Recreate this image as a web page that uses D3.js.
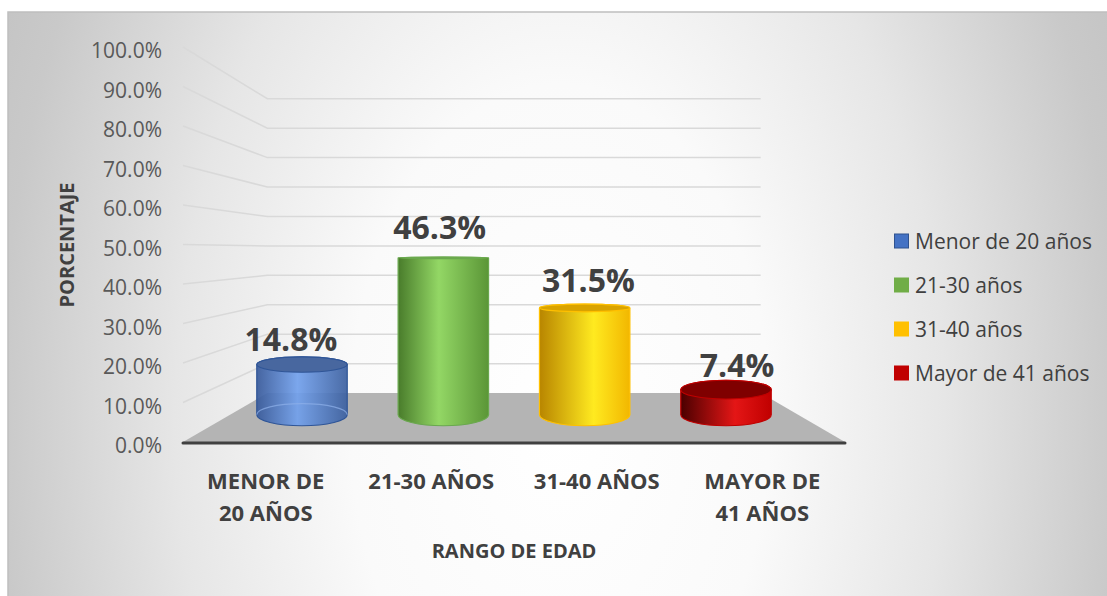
<!DOCTYPE html>
<html lang="es">
<head>
<meta charset="UTF-8">
<title>Rango de edad</title>
<script src="https://d3js.org/d3.v7.min.js"></script>
<style>
    body { margin: 0; background: #ffffff; font-family: "Open Sans", sans-serif; }
    svg { display: block; }
</style>
</head>
<body>
<div id="chart"></div>
<script>
// Datos del gráfico
const categories = ["Menor de 20 años", "21-30 años", "31-40 años", "Mayor de 41 años"];
const axisLabels = [["MENOR DE", "20 AÑOS"], ["21-30 AÑOS"], ["31-40 AÑOS"], ["MAYOR DE", "41 AÑOS"]];
const values = [0.148, 0.463, 0.315, 0.074];
const yTicks = [0, 0.1, 0.2, 0.3, 0.4, 0.5, 0.6, 0.7, 0.8, 0.9, 1.0];

// Colores: [izquierda, brillo, derecha, tapa, borde]
const palette = [
    ["#37599a", "#71a0ec", "#3b5f9f", "#48679f", "#2f5597"],
    ["#497c2b", "#93d765", "#5b9637", "#6fae48", "#6aa84f"],
    ["#b88500", "#ffea20", "#f2b700", "#d9a300", "#ffc000"],
    ["#4a0000", "#e41616", "#c00000", "#7f0000", "#c00000"]
];
const legendColors = ["#4472c4", "#70ad47", "#ffc000", "#c00000"];
const legendStroke = ["#2f528f", "#70ad47", "#ffc000", "#c00000"];

const width = 1107, height = 596;

const svg = d3.select("#chart").append("svg")
    .attr("width", width)
    .attr("height", height);

const defs = svg.append("defs");

// Fondo con degradado radial
const bg = defs.append("radialGradient")
    .attr("id", "bg")
    .attr("gradientUnits", "userSpaceOnUse")
    .attr("cx", 560).attr("cy", 420).attr("r", 700)
    .attr("gradientTransform", "translate(0,420) scale(1,1.6) translate(0,-420)");
[[0, "#ffffff"], [0.3, "#fafafa"], [0.55, "#e6e6e6"], [0.8, "#c9c9c9"], [1, "#bdbdbd"]]
    .forEach(s => bg.append("stop").attr("offset", s[0]).attr("stop-color", s[1]));

svg.append("rect")
    .attr("x", 8).attr("y", 12)
    .attr("width", width).attr("height", height)
    .attr("fill", "url(#bg)")
    .attr("stroke", "#bfbfbf")
    .attr("stroke-width", 1.5);

// Escalas (plano frontal)
const x = d3.scaleBand()
    .domain(categories)
    .range([183, 845])
    .paddingInner(0.36)
    .paddingOuter(0.18);

const y = d3.scaleLinear()
    .domain([0, 1])
    .range([442, 47]);

// Perspectiva simple hacia un punto de fuga
const vp = [514, 250];
const depthK = 0.342;
const f = t => 1 / (1 + depthK * t);
const proj = (X, Y, t) => [vp[0] + f(t) * (X - vp[0]), vp[1] + f(t) * (Y - vp[1])];

const x0 = x.range()[0], x1 = x.range()[1];

// Líneas de cuadrícula (pared lateral y pared del fondo)
const grid = svg.append("g");
yTicks.filter(d => d > 0).forEach(v => {
    const a = proj(x0, y(v), 0), b = proj(x0, y(v), 1), c = proj(x1, y(v), 1);
    grid.append("path")
        .attr("d", `M${a[0]},${a[1]}L${b[0]},${b[1]}L${c[0]},${c[1]}`)
        .attr("fill", "none")
        .attr("stroke", "#d9d9d9")
        .attr("stroke-width", 1.5);
});

// Piso
const floorPts = [proj(x0, y(0), 0), proj(x1, y(0), 0), proj(x1, y(0), 1), proj(x0, y(0), 1)];
svg.append("polygon")
    .attr("points", floorPts.map(p => p.join(",")).join(" "))
    .attr("fill", "#b4b4b4");

svg.append("line")
    .attr("x1", x0).attr("x2", x1)
    .attr("y1", y(0) + 1).attr("y2", y(0) + 1)
    .attr("stroke", "#404040")
    .attr("stroke-width", 3)
    .attr("stroke-linecap", "round");

// Cilindros
const rt = 0.23;
const tc = 0.5;

function ellipseAt(X, Y) {
    const front = proj(X, Y, tc - rt), back = proj(X, Y, tc + rt), mid = proj(X, Y, tc);
    return {
        cx: mid[0],
        cy: (front[1] + back[1]) / 2,
        rx: f(tc) * x.bandwidth() / 2,
        ry: Math.max(0.8, Math.abs(front[1] - back[1]) / 2)
    };
}

const bars = svg.append("g");
categories.forEach((cat, i) => {
    const col = palette[i];
    const g = defs.append("linearGradient")
        .attr("id", "cyl" + i)
        .attr("x1", 0).attr("x2", 1).attr("y1", 0).attr("y2", 0);
    const brightAt = i < 2 ? 0.45 : 0.6;
    [[0, col[0]], [brightAt, col[1]], [1, col[2]]]
        .forEach(s => g.append("stop").attr("offset", s[0]).attr("stop-color", s[1]));

    const X = x(cat) + x.bandwidth() / 2;
    const bot = ellipseAt(X, y(0));
    const top = ellipseAt(X, y(values[i]));

    const body = `M${top.cx - top.rx},${top.cy}` +
        `L${bot.cx - bot.rx},${bot.cy}` +
        `A${bot.rx},${bot.ry} 0 0 0 ${bot.cx + bot.rx},${bot.cy}` +
        `L${top.cx + top.rx},${top.cy}` +
        `A${top.rx},${top.ry} 0 0 0 ${top.cx - top.rx},${top.cy}Z`;

    bars.append("path")
        .attr("d", body)
        .attr("fill", `url(#cyl${i})`)
        .attr("fill-opacity", i === 0 ? 0.92 : 1)
        .attr("stroke", col[4])
        .attr("stroke-width", 1.2);

    if (i === 0) {
        // borde trasero de la base visible a través del cilindro azul
        bars.append("path")
            .attr("d", `M${bot.cx - bot.rx},${bot.cy}A${bot.rx},${bot.ry} 0 0 1 ${bot.cx + bot.rx},${bot.cy}`)
            .attr("fill", "none")
            .attr("stroke", "#8fb0ea")
            .attr("stroke-opacity", 0.7)
            .attr("stroke-width", 1.2);
    }

    bars.append("ellipse")
        .attr("cx", top.cx).attr("cy", top.cy)
        .attr("rx", top.rx).attr("ry", top.ry)
        .attr("fill", col[3])
        .attr("stroke", col[4])
        .attr("stroke-width", 1.2);

    const lp = proj(X, y(values[i]), 0.33);
    svg.append("text")
        .attr("x", lp[0])
        .attr("y", lp[1] - 19)
        .attr("text-anchor", "middle")
        .attr("font-size", 32)
        .attr("font-weight", 700)
        .attr("fill", "#404040")
        .text(d3.format(".1%")(values[i]));
});

// Eje Y
const yAxis = d3.axisLeft(y)
    .tickValues(yTicks)
    .tickSize(0)
    .tickPadding(21)
    .tickFormat(d3.format(".1%"));

const ya = svg.append("g")
    .attr("transform", `translate(${x0},0)`)
    .call(yAxis);
ya.select(".domain").remove();
ya.selectAll("text")
    .attr("font-family", "Open Sans")
    .attr("font-size", 21)
    .attr("fill", "#595959")
    .attr("dy", "0.5em");

svg.append("text")
    .attr("transform", "translate(74,245) rotate(-90)")
    .attr("text-anchor", "middle")
    .attr("font-size", 20)
    .attr("font-weight", 700)
    .attr("fill", "#404040")
    .text("PORCENTAJE");

// Etiquetas de categorías
categories.forEach((cat, i) => {
    const t = svg.append("text")
        .attr("text-anchor", "middle")
        .attr("font-size", 22)
        .attr("font-weight", 700)
        .attr("fill", "#404040");
    axisLabels[i].forEach((line, j) => {
        t.append("tspan")
            .attr("x", x(cat) + x.bandwidth() / 2)
            .attr("y", 489 + j * 32)
            .text(line);
    });
});

svg.append("text")
    .attr("x", 514)
    .attr("y", 558)
    .attr("text-anchor", "middle")
    .attr("font-size", 20)
    .attr("font-weight", 700)
    .attr("fill", "#404040")
    .text("RANGO DE EDAD");

// Leyenda
const legend = svg.append("g");
categories.forEach((cat, i) => {
    const cy = 241 + i * 44;
    legend.append("rect")
        .attr("x", 894.5).attr("y", cy - 7)
        .attr("width", 14).attr("height", 14)
        .attr("fill", legendColors[i])
        .attr("stroke", legendStroke[i])
        .attr("stroke-width", 1);
    legend.append("text")
        .attr("x", 915)
        .attr("y", cy + 7.5)
        .attr("font-size", 21)
        .attr("fill", "#404040")
        .text(cat);
});
</script>
</body>
</html>
